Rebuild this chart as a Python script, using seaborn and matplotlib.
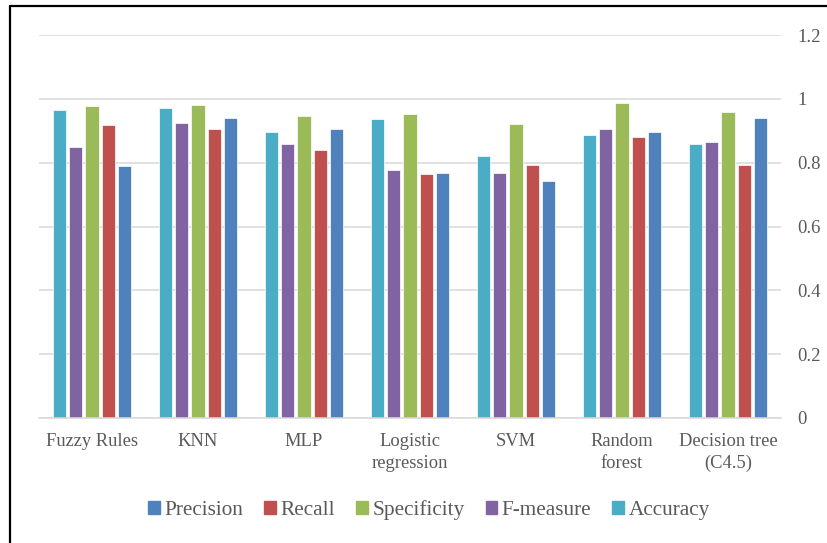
import matplotlib
matplotlib.use("Agg")
import matplotlib.pyplot as plt
from matplotlib.lines import Line2D
import seaborn as sns
import pandas as pd

models = ["Fuzzy Rules", "KNN", "MLP", "Logistic\nregression", "SVM",
          "Random\nforest", "Decision tree\n(C4.5)"]
accuracy = [0.965, 0.971, 0.897, 0.937, 0.821, 0.888, 0.859]
f_measure = [0.849, 0.924, 0.859, 0.776, 0.767, 0.904, 0.864]
specificity = [0.978, 0.982, 0.947, 0.954, 0.922, 0.986, 0.960]
recall = [0.917, 0.904, 0.839, 0.764, 0.792, 0.881, 0.792]
precision = [0.790, 0.941, 0.906, 0.768, 0.743, 0.896, 0.940]

bar_order = ["Accuracy", "F-measure", "Specificity", "Recall", "Precision"]
legend_order = ["Precision", "Recall", "Specificity", "F-measure", "Accuracy"]
colors = {"Precision": "#4F81BD", "Recall": "#C0504D", "Specificity": "#9BBB59",
          "F-measure": "#8064A2", "Accuracy": "#4BACC6"}

series = {"Accuracy": accuracy, "F-measure": f_measure, "Specificity": specificity,
          "Recall": recall, "Precision": precision}
df = pd.DataFrame([
    {"model": m, "metric": k, "value": v}
    for k, vals in series.items() for m, v in zip(models, vals)
])

sns.set_theme(style="white")
plt.rcParams["font.family"] = ["Liberation Serif", "DejaVu Serif"]
text_color = "#595959"
grid_color = "#D9D9D9"

fig = plt.figure(figsize=(8.27, 5.43), dpi=100)
ax = fig.add_axes([39 / 827, 1 - 418 / 543, (781 - 39) / 827, (418 - 35) / 543])

sns.barplot(data=df, x="model", y="value", hue="metric", order=models,
            hue_order=bar_order, palette=colors, width=0.77, gap=0.2,
            saturation=1, edgecolor="white", linewidth=0.5, ax=ax, legend=False)

ax.set_xlim(-0.5, len(models) - 0.5)
ax.set_ylim(0, 1.2)
yticks = [0, 0.2, 0.4, 0.6, 0.8, 1.0, 1.2]
ax.set_yticks(yticks)
ax.set_yticklabels(["0", "0.2", "0.4", "0.6", "0.8", "1", "1.2"])
ax.yaxis.tick_right()
ax.tick_params(axis="y", length=0, pad=12, labelsize=13.5, labelcolor=text_color)
ax.tick_params(axis="x", length=0, pad=11, labelsize=13.3, labelcolor=text_color)
ax.set_xlabel("")
ax.set_ylabel("")
ax.grid(axis="y", color=grid_color, linewidth=1.1)
ax.set_axisbelow(True)
for side in ["top", "left", "right"]:
    ax.spines[side].set_visible(False)
ax.spines["bottom"].set_color(grid_color)
ax.spines["bottom"].set_linewidth(1.1)
for lbl in ax.get_xticklabels():
    lbl.set_linespacing(1.35)

handles = [plt.Rectangle((0, 0), 1, 1, color=colors[k]) for k in legend_order]
leg = fig.legend(handles, legend_order, loc="center", bbox_to_anchor=(429 / 827, 1 - 510 / 543),
                 ncol=5, frameon=False, fontsize=15.3, handlelength=0.55, handleheight=0.55,
                 handletextpad=0.2, columnspacing=1.0)
for t in leg.get_texts():
    t.set_color(text_color)

# frame edges along the top and left of the figure
fig.add_artist(Line2D([9.5 / 827, 1], [1 - 5.5 / 543] * 2, color="black", linewidth=1.6,
                      transform=fig.transFigure))
fig.add_artist(Line2D([9.5 / 827] * 2, [0, 1 - 5.5 / 543], color="black", linewidth=1.6,
                      transform=fig.transFigure))

fig.savefig("out.png", dpi=100)
